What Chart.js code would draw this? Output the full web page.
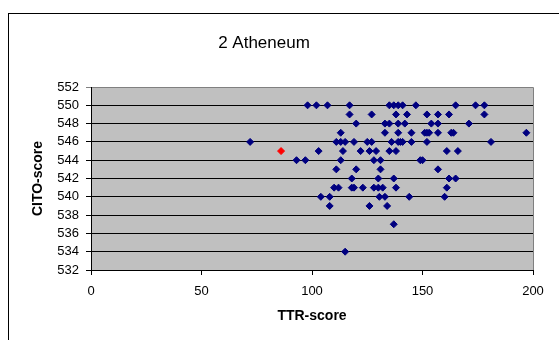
<!DOCTYPE html>
<html>
<head>
<meta charset="utf-8">
<title>2 Atheneum</title>
<script src="https://cdn.jsdelivr.net/npm/chart.js@4"></script>
<style>
  body { margin: 0; background: #fff; overflow: hidden; }
  #frame { position: absolute; left: 8px; top: 13px; width: 700px; height: 500px; border: 1px solid #000; }
  #wrap { position: absolute; left: 0; top: 0; width: 559px; height: 340px; }
</style>
</head>
<body>
<div id="frame"></div>
<div id="wrap"><canvas id="myChart" width="559" height="340"></canvas></div>
<script>
// TTR-score (x) against CITO-score (y) per pupil
const ttrScores = [
  98, 102, 107, 117, 135, 137, 139, 141, 147, 165, 174, 178,
  117, 127, 138, 143, 152, 157, 162, 178,
  120, 133, 135, 139, 142, 154, 157, 171,
  113, 133, 139, 145, 151, 152, 153, 157, 163, 164, 197,
  72, 111, 113, 115, 119, 125, 127, 136, 139, 140, 141, 145, 152, 181,
  103, 114, 122, 126, 129, 135, 138, 161, 166,
  93, 97, 113, 128, 131, 149, 150,
  111, 120, 131, 157,
  118, 130, 137, 162, 165,
  110, 112, 118, 119, 123, 128, 130, 132, 138, 161,
  104, 108, 130.5, 133, 144, 160,
  108, 126, 134,
  137,
  115
];
const citoScores = [
  550, 550, 550, 550, 550, 550, 550, 550, 550, 550, 550, 550,
  549, 549, 549, 549, 549, 549, 549, 549,
  548, 548, 548, 548, 548, 548, 548, 548,
  547, 547, 547, 547, 547, 547, 547, 547, 547, 547, 547,
  546, 546, 546, 546, 546, 546, 546, 546, 546, 546, 546, 546, 546, 546,
  545, 545, 545, 545, 545, 545, 545, 545, 545,
  544, 544, 544, 544, 544, 544, 544,
  543, 543, 543, 543,
  542, 542, 542, 542, 542,
  541, 541, 541, 541, 541, 541, 541, 541, 541, 541,
  540, 540, 540, 540, 540, 540,
  539, 539, 539,
  537,
  534
];
// the one highlighted pupil
const markedTtr = [86];
const markedCito = [545];

const xTicks = [0, 50, 100, 150, 200];
const yMin = 532, yMax = 552, yStep = 2;
const chartTitle = "2 Atheneum";

const points = ttrScores.map((x, i) => ({ x: x, y: citoScores[i] }));
const marked = markedTtr.map((x, i) => ({ x: x, y: markedCito[i] }));

const plotBackground = {
  id: "plotBackground",
  beforeDraw(chart) {
    const { ctx, chartArea: a } = chart;
    ctx.save();
    ctx.fillStyle = "#c0c0c0";
    ctx.fillRect(a.left, a.top, a.right - a.left, a.bottom - a.top);
    ctx.strokeStyle = "#808080";
    ctx.lineWidth = 1;
    ctx.beginPath();
    ctx.moveTo(a.left, a.top + 0.5);
    ctx.lineTo(a.right + 0.5, a.top + 0.5);
    ctx.lineTo(a.right + 0.5, a.bottom);
    ctx.stroke();
    ctx.restore();
  },
  afterDraw(chart) {
    const ctx = chart.ctx;
    ctx.save();
    ctx.fillStyle = "#000";
    ctx.font = "17px Arial, 'Liberation Sans', sans-serif";
    ctx.textAlign = "center";
    ctx.textBaseline = "middle";
    ctx.fillText(chartTitle, 264, 43);
    ctx.restore();
  }
};

new Chart(document.getElementById("myChart"), {
  type: "scatter",
  data: {
    datasets: [
      {
        label: "CITO-score",
        data: points,
        backgroundColor: "#000080",
        borderColor: "#000080",
        borderWidth: 1,
        pointStyle: "rectRot",
        pointRadius: 3.5,
      },
      {
        label: "marked",
        data: marked,
        backgroundColor: "#ff0000",
        borderColor: "#ff0000",
        borderWidth: 1,
        pointStyle: "rectRot",
        pointRadius: 3.5,
      },
    ],
  },
  options: {
    responsive: false,
    animation: false,
    layout: { padding: { left: 0, right: 26, top: 87, bottom: 0 } },
    plugins: {
      legend: { display: false },
      tooltip: { enabled: false },
    },
    scales: {
      x: {
        type: "linear",
        min: 0,
        max: 200,
        afterBuildTicks: (axis) => { axis.ticks = xTicks.map((v) => ({ value: v })); },
        afterFit: (axis) => { axis.height = 70; },
        grid: { drawOnChartArea: false, drawTicks: true, tickLength: 5, color: "#000" },
        border: { color: "#000", width: 1 },
        ticks: { color: "#000", padding: 9, autoSkip: false, font: { size: 13, family: "Arial, 'Liberation Sans', sans-serif" } },
        title: {
          display: true,
          text: "TTR-score",
          color: "#000",
          padding: { top: 0, bottom: 15 },
          font: { size: 14, weight: "bold", family: "Arial, 'Liberation Sans', sans-serif" },
        },
      },
      y: {
        type: "linear",
        min: yMin,
        max: yMax,
        ticks: {
          stepSize: yStep,
          autoSkip: false,
          color: "#000",
          padding: 7,
          font: { size: 13, family: "Arial, 'Liberation Sans', sans-serif" },
        },
        afterFit: (axis) => { axis.width = 91; },
        grid: {
          drawTicks: true,
          tickLength: 5,
          color: (c) => (c.tick && c.tick.value === yMax ? "#808080" : "#000"),
        },
        border: { color: "#000", width: 1 },
        title: {
          display: true,
          text: "CITO-score",
          color: "#000",
          padding: { top: 30, bottom: 0 },
          font: { size: 14, weight: "bold", family: "Arial, 'Liberation Sans', sans-serif" },
        },
      },
    },
  },
  plugins: [plotBackground],
});
</script>
</body>
</html>
